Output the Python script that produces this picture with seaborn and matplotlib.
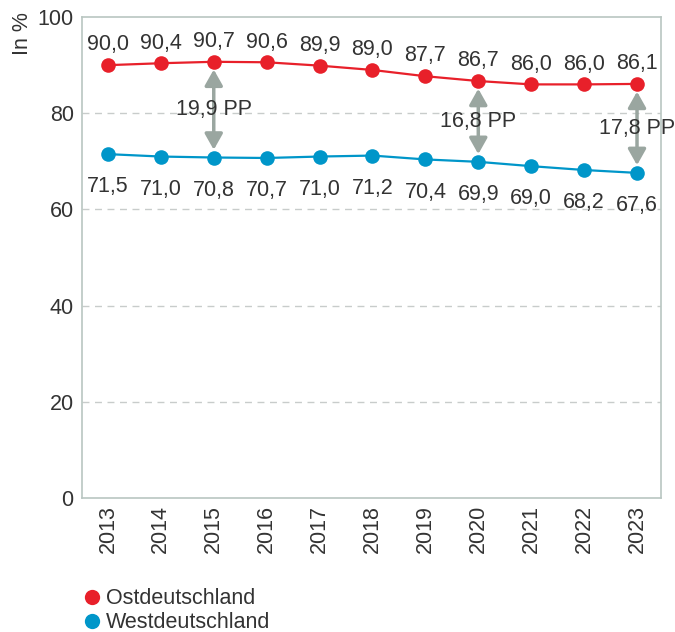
import matplotlib
matplotlib.use("Agg")
import matplotlib.pyplot as plt
import seaborn as sns
import pandas as pd
from matplotlib.lines import Line2D

years = [2013, 2014, 2015, 2016, 2017, 2018, 2019, 2020, 2021, 2022, 2023]
ost = [90.0, 90.4, 90.7, 90.6, 89.9, 89.0, 87.7, 86.7, 86.0, 86.0, 86.1]
west = [71.5, 71.0, 70.8, 70.7, 71.0, 71.2, 70.4, 69.9, 69.0, 68.2, 67.6]
series_names = ["Ostdeutschland", "Westdeutschland"]
gap_years = [2015, 2020, 2023]
gap_labels = ["19,9 PP", "16,8 PP", "17,8 PP"]
y_ticks = [0, 20, 40, 60, 80, 100]

RED = "#e8202a"
BLUE = "#0096c9"
GREY_ARROW = "#9aa6a0"
TXT = "#333333"
FS = 15.5

sns.set_theme(style="white")
plt.rcParams["font.family"] = ["Liberation Sans", "DejaVu Sans"]

df = pd.DataFrame({
    "Jahr": years * 2,
    "Wert": ost + west,
    "Region": [series_names[0]] * len(years) + [series_names[1]] * len(years),
})

fig = plt.figure(figsize=(6.75, 6.32), dpi=100)
ax = fig.add_axes([0.1215, 0.212, 0.979 - 0.1215, 0.973 - 0.212])

sns.lineplot(data=df, x="Jahr", y="Wert", hue="Region",
             palette={series_names[0]: RED, series_names[1]: BLUE},
             marker="o", markersize=10.5, markeredgewidth=0, linewidth=1.6,
             ax=ax, legend=False)

ax.set_xlim(years[0] - 0.49, years[-1] + 0.45)
ax.set_ylim(0, 100)
ax.set_yticks(y_ticks)
ax.set_yticklabels([str(t) for t in y_ticks], fontsize=FS, color=TXT)
ax.set_xticks(years)
ax.set_xticklabels([str(y) for y in years], rotation=90, fontsize=FS, color=TXT)
ax.tick_params(axis="y", length=0, pad=6)
ax.tick_params(axis="x", length=0, pad=5)
ax.set_xlabel("")
ax.set_ylabel("In %", fontsize=FS, color=TXT, loc="top")
ax.yaxis.set_label_coords(-0.084, 1.01)

for t in y_ticks[1:-1]:
    ax.axhline(t, color="#c8cccb", linestyle=(0, (5, 4)), linewidth=1.0, zorder=0)

for sp in ax.spines.values():
    sp.set_color("#b9c6c1")
    sp.set_linewidth(1.2)

for x, v in zip(years, ost):
    ax.annotate(f"{v:.1f}".replace(".", ","), (x, v), xytext=(0, 7),
                textcoords="offset points", ha="center", va="bottom",
                fontsize=FS, color=TXT)
for x, v in zip(years, west):
    ax.annotate(f"{v:.1f}".replace(".", ","), (x, v), xytext=(0, -16),
                textcoords="offset points", ha="center", va="top",
                fontsize=FS, color=TXT)

for gy, gl in zip(gap_years, gap_labels):
    i = years.index(gy)
    top, bot = ost[i], west[i]
    ax.annotate("", xy=(gy, bot + 1.6), xytext=(gy, top - 1.6),
                arrowprops=dict(arrowstyle="<|-|>,head_length=0.8,head_width=0.45",
                                color=GREY_ARROW, lw=2.5, shrinkA=0, shrinkB=0),
                zorder=1)
    ax.text(gy, (top + bot) / 2, gl, ha="center", va="center",
            fontsize=FS, color=TXT, zorder=3)

handles = [Line2D([], [], marker="o", linestyle="", markersize=11,
                  markerfacecolor=c, markeredgewidth=0) for c in (RED, BLUE)]
fig.legend(handles, series_names, loc="upper left", bbox_to_anchor=(0.106, 0.083),
           frameon=False, fontsize=FS, handletextpad=0.1, labelspacing=0.15,
           borderaxespad=0, handlelength=1.1, labelcolor=TXT)

fig.savefig("out.png", dpi=100)
